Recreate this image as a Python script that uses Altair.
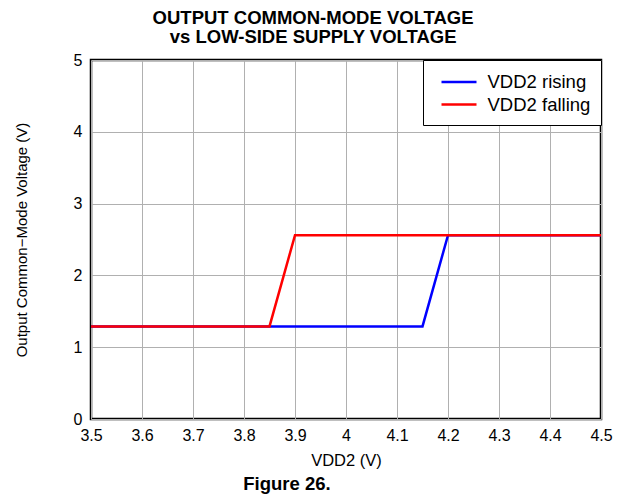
import altair as alt
import pandas as pd

rising_x = [3.5, 4.15, 4.2, 4.5]
rising_y = [1.29, 1.29, 2.56, 2.56]
falling_x = [3.5, 3.85, 3.9, 4.5]
falling_y = [1.29, 1.29, 2.56, 2.56]
series = ["VDD2 rising", "VDD2 falling"]
colors = ["#0000ff", "#ff0000"]
x_ticks = [3.5, 3.6, 3.7, 3.8, 3.9, 4.0, 4.1, 4.2, 4.3, 4.4, 4.5]
y_ticks = [0, 1, 2, 3, 4, 5]

rows = []
for i, (x, y) in enumerate(zip(rising_x, rising_y)):
    rows.append({"x": x, "y": y, "s": series[0], "o": i})
for i, (x, y) in enumerate(zip(falling_x, falling_y)):
    rows.append({"x": x, "y": y, "s": series[1], "o": i})
df = pd.DataFrame(rows)

W, H = 510, 359
FONT = "Liberation Sans"

xs = alt.X("x:Q", scale=alt.Scale(domain=[3.5, 4.5], nice=False),
           axis=alt.Axis(values=x_ticks, title="VDD2 (V)", titleFontSize=16.5,
                         labelPadding=8, titlePadding=9, labelFlush=False,
                         labelExpr="datum.value == 4 ? '4' : format(datum.value, '.1f')"))
ys = alt.Y("y:Q", scale=alt.Scale(domain=[0, 5], nice=False),
           axis=alt.Axis(values=y_ticks, title="Output Common\u2212Mode Voltage (V)",
                         titleFontSize=15, labelPadding=9, titlePadding=44,
                         labelFlush=False))
col = alt.Color("s:N", scale=alt.Scale(domain=series, range=colors),
                legend=alt.Legend(title=None, orient="top-right", offset=0,
                                  strokeColor="black", fillColor="white",
                                  padding=10.5, symbolType="M-1.75,0H1.75", symbolSize=400,
                                  symbolStrokeWidth=2.5, labelFontSize=18.5,
                                  labelFont=FONT, labelColor="black",
                                  labelLimit=250, rowPadding=1.5,
                                  symbolOffset=14, labelOffset=17))

base = alt.Chart(df)
blue = base.transform_filter(alt.datum.s == series[0]).mark_line(strokeWidth=2.5).encode(
    x=xs, y=ys, color=col, order="o:Q")
red = base.transform_filter(alt.datum.s == series[1]).mark_line(strokeWidth=2.5).encode(
    x=xs, y=ys, color=col, order="o:Q")

caption = alt.Chart(pd.DataFrame({"t": ["Figure 26."]})).mark_text(
    font=FONT, fontSize=18.5, fontWeight="bold", color="black", baseline="middle"
).encode(text="t:N", x=alt.value(196), y=alt.value(H + 65))

chart = alt.layer(blue, red, caption).properties(
    width=W, height=H,
    title=alt.Title(["OUTPUT COMMON-MODE VOLTAGE", "vs LOW-SIDE SUPPLY VOLTAGE"],
                    font=FONT, fontSize=18.5, fontWeight="bold", color="black",
                    anchor="middle", frame="bounds", lineHeight=19, offset=6),
    padding={"left": 6, "top": 0, "right": 5, "bottom": 5}
).configure_view(stroke="black", strokeWidth=2.5).configure_axis(
    labelFont=FONT, titleFont=FONT, labelFontSize=16,
    labelColor="black", titleColor="black", titleFontWeight="normal",
    grid=True, gridColor="#b0b0b0", gridWidth=1, domain=False,
    ticks=False
)

chart.save("out.html", embed_options={"renderer": "svg", "actions": False})
